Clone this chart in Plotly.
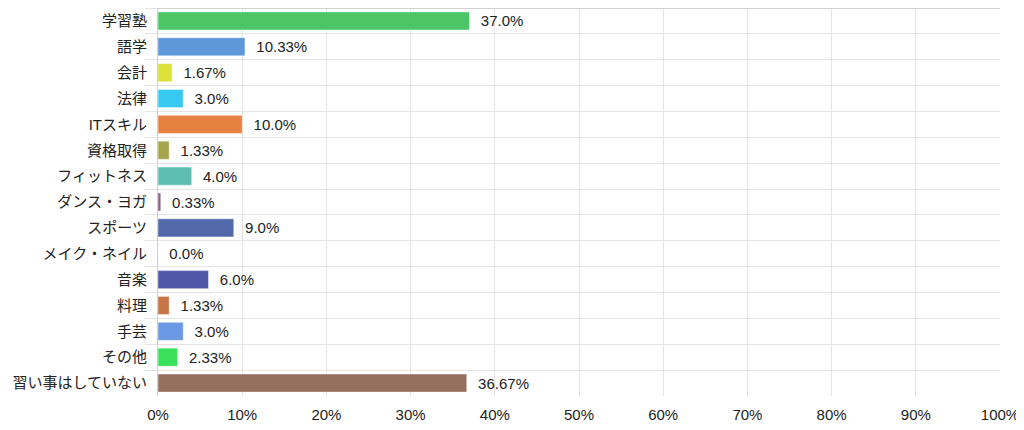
import plotly.graph_objects as go

CATEGORIES = ['学習塾', '語学', '会計', '法律', 'ITスキル', '資格取得', 'フィットネス', 'ダンス・ヨガ',
              'スポーツ', 'メイク・ネイル', '音楽', '料理', '手芸', 'その他', '習い事はしていない']
VALUES = [37.0, 10.33, 1.67, 3.0, 10.0, 1.33, 4.0, 0.33, 9.0, 0.0, 6.0, 1.33, 3.0, 2.33, 36.67]
COLORS = ['#4dc567', '#5e97da', '#dce037', '#38c9f1', '#e7813f', '#a5a54b', '#5ebdb1', '#8b5d87',
          '#5169a9', '#c74b9a', '#5057a9', '#c87546', '#6b98e2', '#3ae05a', '#946f5e']
X_TICKS = list(range(0, 101, 10))

FONT = "Arial, 'Liberation Sans', 'Noto Sans CJK JP', sans-serif"
GRID = '#e4e4e4'

# the page has an 8px body margin, so the figure is a bit smaller than the window
fig = go.Figure()
fig.add_trace(go.Bar(
    y=CATEGORIES, x=VALUES, orientation='h',
    marker=dict(color=COLORS, line=dict(color='rgba(255,255,255,0.45)', width=1)),
    width=0.7,
    text=['\u00a0\u00a0' + f'{v}%' for v in VALUES],
    textposition='outside', cliponaxis=False,
    textfont=dict(size=15, color='#222222', family=FONT),
    hoverinfo='x+y',
))

fig.add_shape(type='line', xref='paper', yref='paper', x0=0, x1=1, y0=1, y1=1,
              line=dict(color='#d0d0d0', width=2))

fig.update_layout(
    width=1016, height=422,
    margin=dict(l=150, r=24, t=0, b=34),
    paper_bgcolor='white', plot_bgcolor='white',
    font=dict(family=FONT, size=15, color='#222222'),
    showlegend=False,
    xaxis=dict(range=[0, 100], tickvals=X_TICKS, ticktext=[f'{t}%' for t in X_TICKS],
               showgrid=True, gridcolor=GRID, gridwidth=1, zeroline=False,
               showline=False, ticks='', ticklabelstandoff=8,
               tickfont=dict(size=15, color='#222222')),
    yaxis=dict(autorange='reversed', tickson='boundaries', ticks='outside', ticklen=12,
               tickcolor=GRID, showgrid=True, gridcolor=GRID, showline=True,
               linecolor='#cfcfcf', linewidth=1, ticklabelstandoff=7,
               tickfont=dict(size=15, color='#222222')),
)

fig.write_html("out.html")
